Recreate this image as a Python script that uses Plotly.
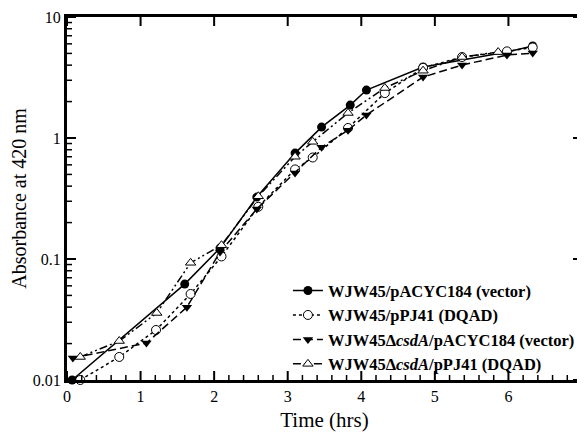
import plotly.graph_objects as go

# Series 1: WJW45/pACYC184 (vector)
t1 = [0.07, 1.60, 2.08, 2.58, 3.10, 3.46, 3.85, 4.07, 4.84, 5.98, 6.33]
a1 = [0.010, 0.062, 0.123, 0.325, 0.75, 1.23, 1.87, 2.49, 3.86, 5.14, 5.76]
# Series 2: WJW45/pPJ41 (DQAD)
t2 = [0.18, 0.71, 1.21, 1.68, 2.10, 2.60, 3.10, 3.34, 3.82, 4.32, 4.84, 5.37, 5.98, 6.33]
a2 = [0.010, 0.0155, 0.0259, 0.0514, 0.105, 0.27, 0.55, 0.69, 1.21, 2.35, 3.80, 4.67, 5.2, 5.6]
# Series 3: WJW45ΔcsdA/pACYC184 (vector)
t3 = [0.08, 1.08, 1.63, 2.08, 2.58, 3.10, 3.46, 3.82, 4.07, 4.84, 5.37, 5.98, 6.33]
a3 = [0.0152, 0.0202, 0.040, 0.114, 0.259, 0.514, 0.84, 1.16, 1.55, 3.19, 4.01, 4.85, 5.03]
# Series 4: WJW45ΔcsdA/pPJ41 (DQAD)
t4 = [0.18, 0.71, 1.22, 1.68, 2.10, 2.60, 3.10, 3.34, 3.82, 4.32, 4.84, 5.37, 5.86]
a4 = [0.0155, 0.021, 0.0358, 0.093, 0.13, 0.33, 0.70, 0.93, 1.61, 2.59, 3.6, 4.67, 5.13]

names = ["<b>WJW45/pACYC184 (vector)</b>",
         "<b>WJW45/pPJ41 (DQAD)</b>",
         "<b>WJW45Δ<i>csdA</i>/pACYC184 (vector)</b>",
         "<b>WJW45Δ<i>csdA</i>/pPJ41 (DQAD)</b>"]

# Axis ticks
xmajor = [0, 1, 2, 3, 4, 5, 6, 7]
xminor = [i + f / 10 for i in range(7) for f in (2, 4, 6, 8)]
ytickvals = [0.01, 0.1, 1, 10]
yticktext = ["0.01", "0.1", "1", "10"]
yminorvals = [m * d for d in (0.01, 0.1, 1) for m in range(2, 10)]

FONT = "Liberation Serif"
PLOT_W, PLOT_H = 515, 363      # plot area size in px (figure minus margins)
MAJ, MIN = 9, 5                # tick lengths in px

fig = go.Figure()

fig.add_trace(go.Scatter(x=t1, y=a1, name=names[0], mode="lines+markers", cliponaxis=False,
                         line=dict(color="black", width=1.5, dash="solid"),
                         marker=dict(symbol="circle", size=9, color="black")))
fig.add_trace(go.Scatter(x=t2, y=a2, name=names[1], mode="lines+markers", cliponaxis=False,
                         line=dict(color="black", width=1.5, dash="dot"),
                         marker=dict(symbol="circle", size=9, color="white",
                                     line=dict(color="black", width=1))))
fig.add_trace(go.Scatter(x=t3, y=a3, name=names[2], mode="lines+markers", cliponaxis=False,
                         line=dict(color="black", width=1.5, dash="8px,4px"),
                         marker=dict(symbol="triangle-down", size=9, color="black")))
fig.add_trace(go.Scatter(x=t4, y=a4, name=names[3], mode="lines+markers", cliponaxis=False,
                         line=dict(color="black", width=1.5, dash="8px,3px,2px,3px,2px,3px"),
                         marker=dict(symbol="triangle-up", size=9, color="white",
                                     line=dict(color="black", width=1))))

# inward tick marks as layout shapes, placed at the tick values on the axes' own scales
shapes = []
fx_maj, fx_min = MAJ / PLOT_H, MIN / PLOT_H
fy_maj, fy_min = MAJ / PLOT_W, MIN / PLOT_W
for v in xmajor:
    shapes.append(dict(type="line", xref="x", yref="y domain", x0=v, x1=v, y0=0, y1=fx_maj,
                       line=dict(color="black", width=2)))
    shapes.append(dict(type="line", xref="x", yref="y domain", x0=v, x1=v, y0=1, y1=1 - fx_maj,
                       line=dict(color="black", width=2)))
for v in xminor:
    shapes.append(dict(type="line", xref="x", yref="y domain", x0=v, x1=v, y0=0, y1=fx_min,
                       line=dict(color="black", width=1.5)))
for v in ytickvals:
    shapes.append(dict(type="line", xref="x domain", yref="y", x0=0, x1=fy_maj, y0=v, y1=v,
                       line=dict(color="black", width=2)))
    shapes.append(dict(type="line", xref="x domain", yref="y", x0=1, x1=1 - fy_maj, y0=v, y1=v,
                       line=dict(color="black", width=2)))
for v in yminorvals:
    shapes.append(dict(type="line", xref="x domain", yref="y", x0=0, x1=fy_min, y0=v, y1=v,
                       line=dict(color="black", width=1.5)))

fig.update_layout(
    width=577, height=424,
    margin=dict(l=59, r=3, t=9, b=52),
    paper_bgcolor="white", plot_bgcolor="white",
    font=dict(family=FONT, size=15, color="black"),
    showlegend=True,
    shapes=shapes,
    legend=dict(x=0.429, y=0.294, xanchor="left", yanchor="top",
                bgcolor="rgba(0,0,0,0)", borderwidth=0,
                font=dict(family=FONT, size=16.5, color="black"),
                tracegroupgap=0),
)
fig.update_xaxes(range=[0, 7], tickvals=xmajor, showgrid=False, zeroline=False,
                 automargin=False, mirror=True,
                 showline=True, linecolor="black", linewidth=3, ticks="",
                 title=dict(text="Time (hrs)", font=dict(family=FONT, size=21), standoff=12),
                 tickfont=dict(family=FONT, size=16))
fig.update_yaxes(type="log", range=[-2, 1], tickvals=ytickvals, ticktext=yticktext,
                 showgrid=False, zeroline=False, automargin=False, mirror=True,
                 showline=True, linecolor="black", linewidth=3, ticks="",
                 title=dict(text="Absorbance at 420 nm", font=dict(family=FONT, size=20), standoff=8),
                 tickfont=dict(family=FONT, size=16))

fig.write_html("out.html")
